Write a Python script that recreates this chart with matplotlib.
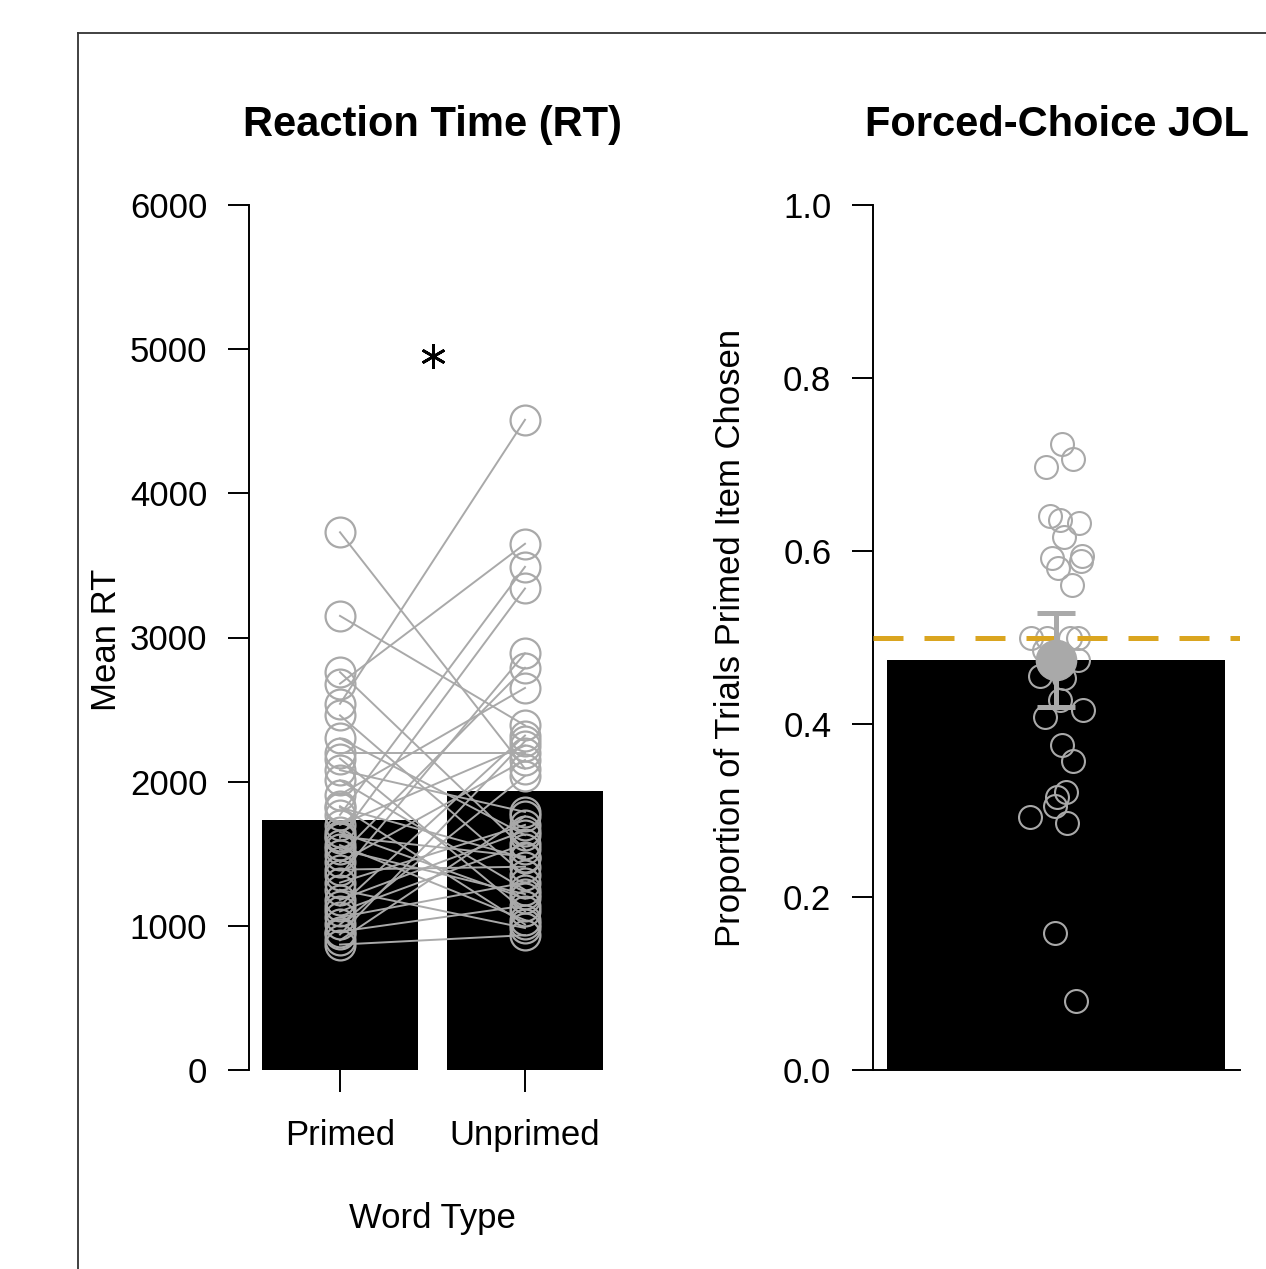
import numpy as np
import matplotlib
matplotlib.use("Agg")
import matplotlib.pyplot as plt
from matplotlib.lines import Line2D

plt.rcParams['font.family'] = ['Liberation Sans', 'DejaVu Sans']

# ---- data ----
word_types = ['Primed', 'Unprimed']
rt_primed = [3730, 3150, 2760, 2680, 2540, 2460, 2300, 2200, 2160, 2080, 2010, 1910,
             1820, 1770, 1700, 1650, 1610, 1560, 1490, 1440, 1390, 1350, 1300, 1250,
             1140, 1100, 1060, 1010, 960, 900, 870, 1620, 1530, 1180, 1830, 940]
rt_unprimed = [2090, 2390, 1530, 3650, 4510, 1350, 1630, 2200, 1100, 1790, 1250, 2650,
               1470, 3490, 2250, 1190, 3340, 1040, 2790, 2150, 1410, 2890, 1700, 985,
               2320, 1570, 1300, 2040, 1140, 1760, 935, 1480, 1220, 1660, 1010, 2280]
rt_ticks = [0, 1000, 2000, 3000, 4000, 5000, 6000]

prop_primed = [0.724, 0.706, 0.697, 0.640, 0.636, 0.632, 0.616, 0.592, 0.594, 0.588,
               0.580, 0.561, 0.500, 0.500, 0.500, 0.500, 0.486, 0.474, 0.455, 0.453,
               0.428, 0.416, 0.408, 0.376, 0.357, 0.321, 0.316, 0.305, 0.292, 0.286,
               0.158, 0.080]
# horizontal jitter of each point (pixels from bar centre)
prop_jitter_px = [6, 17, -10, -6, 4, 23, 8, -4, 26, 25, 2, 16, -25, -9, 14, 22,
                  -12, 22, -16, 8, 4, 27, -11, 6, 17, 10, 1, -1, -26, 11, -1, 20]
prop_ticks = [0.0, 0.2, 0.4, 0.6, 0.8, 1.0]
chance = 0.5

grey = '#A9A9A9'
gold = '#DAA520'
fs = 25

W, H = 1266, 1269
fig = plt.figure(figsize=(W / 100, H / 100), dpi=100)

def fx(px):
    return px / W

def fy(py):
    return 1 - py / H

ax1 = fig.add_axes([fx(249), fy(1070), fx(616) - fx(249), fy(205) - fy(1070)])
ax2 = fig.add_axes([fx(873), fy(1070), fx(1240) - fx(873), fy(205) - fy(1070)])

# ---- left panel: reaction time ----
means = [np.mean(rt_primed), np.mean(rt_unprimed)]
xpos = [0, 1]
ax1.bar(xpos, means, width=0.843, color='black', zorder=1)
for a, b in zip(rt_primed, rt_unprimed):
    ax1.plot(xpos, [a, b], color=grey, lw=1.4, zorder=2)
ax1.plot([0] * len(rt_primed), rt_primed, 'o', mfc='none', mec=grey, ms=21.5, mew=1.6, zorder=3)
ax1.plot([1] * len(rt_unprimed), rt_unprimed, 'o', mfc='none', mec=grey, ms=21.5, mew=1.6, zorder=3)
ax1.plot([0.5], [4950], marker=(6, 2, 0), color='black', ms=18, mew=2.0, zorder=4)

ax1.set_xlim(-0.492, 1.492)
ax1.set_ylim(0, 6000)
ax1.set_yticks(rt_ticks)
ax1.set_xticks(xpos)
ax1.set_xticklabels(word_types)
for s in ['top', 'right', 'bottom']:
    ax1.spines[s].set_visible(False)
ax1.spines['left'].set_linewidth(1.4)
ax1.tick_params(axis='y', length=15, width=1.4, pad=15, labelsize=fs)
ax1.tick_params(axis='x', length=16, width=1.4, pad=19, labelsize=fs)
ax1.set_ylabel('Mean RT', fontsize=fs, va='center')
ax1.yaxis.set_label_coords(-0.388, 0.497)
ax1.text(0.5, -0.1827, 'Word Type', transform=ax1.transAxes, ha='center',
         va='baseline', fontsize=fs)
ax1.text(0.5, 1.0798, 'Reaction Time (RT)', transform=ax1.transAxes, ha='center',
         va='baseline', fontsize=30, fontweight='bold')

# ---- right panel: forced-choice JOL ----
pmean = np.mean(prop_primed)
pci = 1.96 * np.std(prop_primed, ddof=1) / np.sqrt(len(prop_primed))
px_per_unit = 339.0
jx = [j / px_per_unit for j in prop_jitter_px]

ax2.bar([0], [pmean], width=1.0, color='black', zorder=1)
ax2.plot(jx, prop_primed, 'o', mfc='none', mec=grey, ms=16.5, mew=1.5, zorder=2)
ax2.axhline(chance, color=gold, lw=3.6, dashes=(6, 4.2), zorder=3)
ax2.errorbar([0], [pmean], yerr=[pci], fmt='o', color=grey, ms=29, elinewidth=3.6,
             capsize=13.5, capthick=3.6, zorder=4)

ax2.set_xlim(-0.540, 0.543)
ax2.set_ylim(0, 1)
ax2.set_yticks(prop_ticks)
ax2.set_yticklabels(['%.1f' % t for t in prop_ticks])
ax2.set_xticks([])
for s in ['top', 'right']:
    ax2.spines[s].set_visible(False)
ax2.spines['left'].set_linewidth(1.4)
ax2.spines['bottom'].set_linewidth(1.4)
ax2.tick_params(axis='y', length=15, width=1.4, pad=15, labelsize=fs)
ax2.set_ylabel('Proportion of Trials Primed Item Chosen', fontsize=fs, va='center')
ax2.yaxis.set_label_coords(-0.388, 0.50)
ax2.text(0.5, 1.0798, 'Forced-Choice JOL', transform=ax2.transAxes, ha='center',
         va='baseline', fontsize=30, fontweight='bold')

# outer frame (cut off by the figure edge)
fig.add_artist(Line2D([fx(78), fx(78)], [0, fy(33)], color='#333333', lw=1.3))
fig.add_artist(Line2D([fx(78), 1], [fy(33), fy(33)], color='#333333', lw=1.3))

fig.savefig('out.png', dpi=100)
